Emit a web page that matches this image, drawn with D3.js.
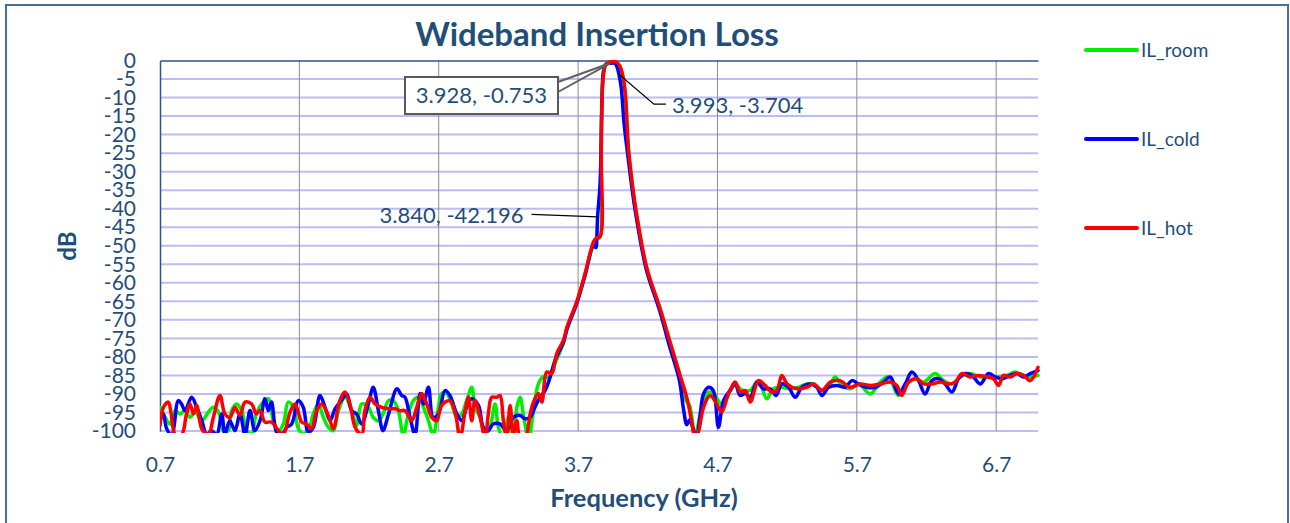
<!DOCTYPE html>
<html><head><meta charset="utf-8">
<script src="https://cdn.jsdelivr.net/npm/d3@7"></script>
<style>body{margin:0;background:#fff}svg{display:block;font-family:Lato,"Open Sans",sans-serif}</style>
</head><body><svg id="c" width="1290" height="523"></svg>
<script>
// ---------- DATA ----------
const chartTitle = "Wideband Insertion Loss";
const xTitle = "Frequency (GHz)";
const yTitle = "dB";
const xTicks = [0.7, 1.7, 2.7, 3.7, 4.7, 5.7, 6.7];
const yTicks = [0, -5, -10, -15, -20, -25, -30, -35, -40, -45, -50, -55, -60, -65, -70, -75, -80, -85, -90, -95, -100];
const seriesNames = ["IL_room", "IL_cold", "IL_hot"];
const seriesColors = ["#00ee00", "#0000ff", "#ff0000"];

// [GHz, dB]
const roomData = [[0.70,-93.6],[0.736,-96.3],[0.772,-98.1],[0.808,-94.5],[0.843,-95.4],[0.879,-94.5],[0.915,-96.3],[0.951,-94.9],[1.0,-97.2],[1.047,-94.9],[1.083,-93.6],[1.12,-94.9],[1.155,-99.9],[1.19,-99.9],[1.214,-94.5],[1.25,-92.7],[1.286,-94.5],[1.322,-99.9],[1.358,-100.8],[1.39,-95.4],[1.43,-92.7],[1.477,-91.3],[1.513,-97.2],[1.55,-99.9],[1.585,-98.1],[1.62,-92.2],[1.657,-93.6],[1.693,-99.4],[1.728,-100.8],[1.764,-99.9],[1.80,-95.4],[1.836,-92.7],[1.872,-96.3],[1.908,-99],[1.944,-99.9],[1.98,-94.5],[2.027,-90.9],[2.075,-94.5],[2.11,-98.5],[2.147,-92.7],[2.195,-93.6],[2.23,-96.3],[2.267,-97.2],[2.30,-95.4],[2.34,-91.8],[2.375,-91.8],[2.41,-94.5],[2.446,-101],[2.482,-95.4],[2.518,-91.8],[2.554,-90.9],[2.59,-93.6],[2.626,-97.2],[2.66,-101],[2.698,-93.6],[2.72,-89.9],[2.757,-89.9],[2.793,-92.7],[2.83,-96.3],[2.865,-95.4],[2.90,-91.8],[2.937,-88.2],[2.96,-93.6],[2.997,-96.3],[3.033,-101],[3.068,-99],[3.104,-92.7],[3.128,-99],[3.164,-102],[3.20,-96.3],[3.236,-102],[3.26,-93.6],[3.284,-90.9],[3.31,-96.3],[3.345,-102],[3.38,-94.5],[3.415,-87.3],[3.45,-85.4],[3.487,-85.4],[3.523,-82.7],[3.595,-76.2],[3.62,-72.5],[3.691,-65.3],[3.75,-57.8],[3.81,-49.5],[3.832,-48.2],[3.856,-47.8],[3.864,-28],[3.872,-9],[3.883,-3],[3.90,-1],[3.93,-0.5],[3.972,-0.5],[3.998,-1.6],[4.012,-3],[4.035,-8],[4.06,-23.8],[4.088,-33.5],[4.12,-42],[4.193,-56.3],[4.289,-67.3],[4.362,-76.5],[4.432,-85.3],[4.47,-91.5],[4.50,-93.1],[4.54,-101],[4.588,-93.6],[4.636,-89.5],[4.68,-90.4],[4.73,-92.7],[4.78,-89.9],[4.827,-87.3],[4.875,-89],[4.935,-89],[4.995,-86.4],[5.054,-91.3],[5.10,-88.6],[5.162,-88.2],[5.22,-88.6],[5.282,-88.2],[5.34,-87.3],[5.39,-87.3],[5.45,-89],[5.509,-87.3],[5.545,-85.4],[5.592,-87.7],[5.652,-88.6],[5.712,-87.3],[5.796,-90],[5.868,-86.8],[5.927,-85.4],[5.999,-90.4],[6.059,-87.3],[6.119,-85.9],[6.179,-86.8],[6.262,-84.5],[6.322,-86.4],[6.382,-87.3],[6.441,-85.4],[6.514,-84.5],[6.585,-85.4],[6.645,-85.4],[6.705,-85.4],[6.776,-85],[6.836,-84.1],[6.896,-85],[6.956,-85.4],[7.0,-85]];

const coldData = [[0.70,-97.2],[0.724,-95.4],[0.748,-99.4],[0.784,-101],[0.831,-91.8],[0.855,-92.7],[0.879,-94.5],[0.927,-90.9],[0.963,-93.6],[1.0,-97.2],[1.035,-101],[1.07,-99.9],[1.107,-101],[1.143,-95.4],[1.166,-101],[1.20,-97.2],[1.238,-99.9],[1.274,-95.4],[1.31,-101],[1.346,-94.5],[1.38,-99.9],[1.418,-97.2],[1.453,-91.3],[1.477,-94.5],[1.50,-92.2],[1.537,-100.3],[1.573,-101],[1.61,-99],[1.645,-98.1],[1.693,-91.8],[1.728,-93.6],[1.764,-100.3],[1.80,-99],[1.848,-90.4],[1.884,-93.6],[1.92,-97.2],[1.956,-94],[2.0,-91.8],[2.04,-90],[2.075,-94.5],[2.11,-95.4],[2.147,-98.1],[2.195,-92.7],[2.23,-88.2],[2.267,-94.5],[2.30,-99.9],[2.34,-95.4],[2.40,-88.6],[2.434,-90.4],[2.458,-90.9],[2.494,-96.3],[2.53,-101],[2.566,-89.9],[2.59,-92.7],[2.626,-88.2],[2.66,-96.3],[2.698,-95.4],[2.745,-89.1],[2.78,-90.4],[2.83,-95.4],[2.865,-97.2],[2.90,-93.6],[2.937,-91.3],[2.985,-93.1],[3.02,-99],[3.056,-99.9],[3.09,-98.1],[3.14,-98.1],[3.188,-100],[3.236,-96.3],[3.284,-95.8],[3.32,-96.7],[3.356,-96.3],[3.39,-93.6],[3.427,-90.9],[3.463,-89.1],[3.50,-85.4],[3.535,-80.9],[3.595,-76],[3.62,-72.5],[3.691,-65.5],[3.75,-58],[3.81,-50],[3.828,-50.5],[3.834,-48],[3.840,-42.2],[3.858,-33],[3.872,-10],[3.882,-3],[3.90,-1],[3.928,-0.75],[3.965,-0.8],[3.98,-1.8],[3.993,-3.7],[4.01,-7.5],[4.03,-17],[4.055,-25],[4.085,-34],[4.115,-41.7],[4.19,-56.5],[4.285,-67.5],[4.355,-77],[4.425,-86],[4.456,-94],[4.48,-98.3],[4.50,-97],[4.53,-100],[4.55,-102],[4.575,-96],[4.60,-90],[4.636,-88.2],[4.67,-89.1],[4.707,-99],[4.743,-91.8],[4.79,-89.1],[4.827,-87.3],[4.863,-90.4],[4.90,-89.9],[4.935,-90.9],[4.983,-86.8],[5.03,-88.6],[5.078,-88.6],[5.121,-90.4],[5.162,-87.3],[5.21,-88.2],[5.258,-90.9],[5.305,-88.2],[5.365,-87.3],[5.413,-88.2],[5.449,-90.4],[5.497,-88.2],[5.557,-87.7],[5.617,-88.2],[5.664,-86.4],[5.712,-87.3],[5.772,-88.2],[5.832,-88.2],[5.892,-86.8],[5.94,-85.4],[5.999,-90],[6.047,-87.3],[6.095,-84.1],[6.143,-86.4],[6.19,-90],[6.238,-86.4],[6.286,-85.9],[6.334,-87.3],[6.382,-89.5],[6.43,-85.9],[6.478,-84.5],[6.526,-85],[6.585,-87.3],[6.645,-84.5],[6.693,-85.4],[6.741,-85.9],[6.80,-85],[6.849,-84.5],[6.896,-85.4],[6.944,-84.5],[7.0,-83.7]];

const hotData = [[0.70,-98.5],[0.725,-93.6],[0.76,-92.2],[0.78,-95.4],[0.81,-101],[0.855,-101],[0.89,-95.4],[0.915,-92.7],[0.94,-95.4],[0.963,-93.1],[1.00,-99.4],[1.047,-101],[1.083,-96.3],[1.13,-90.4],[1.166,-95.4],[1.202,-96.3],[1.238,-93.6],[1.274,-95.8],[1.31,-92.2],[1.358,-92.7],[1.39,-95.4],[1.418,-94.5],[1.453,-97.6],[1.50,-97.6],[1.55,-99.9],[1.585,-101],[1.633,-94.9],[1.669,-92.7],[1.717,-97.6],[1.752,-98.1],[1.788,-99.4],[1.824,-94.5],[1.86,-92.7],[1.908,-95.8],[1.944,-99.4],[1.99,-91.8],[2.027,-89.5],[2.063,-92.7],[2.10,-99],[2.147,-101],[2.17,-94.5],[2.207,-90.9],[2.243,-92.7],[2.29,-93.6],[2.34,-94],[2.39,-94],[2.42,-94.5],[2.458,-94.5],[2.506,-97.2],[2.542,-93.6],[2.578,-89.9],[2.614,-92.7],[2.65,-96.3],[2.686,-97.2],[2.72,-93.1],[2.78,-91.8],[2.82,-95.4],[2.853,-102],[2.89,-94.5],[2.913,-90.9],[2.937,-97.2],[2.96,-91.8],[2.997,-96.3],[3.033,-102],[3.056,-95.4],[3.08,-90.9],[3.116,-90.9],[3.14,-90.4],[3.164,-97.2],[3.188,-102],[3.212,-93.1],[3.236,-101],[3.26,-97.2],[3.284,-102],[3.32,-102],[3.356,-95.4],[3.38,-92.2],[3.415,-89.9],[3.44,-92.2],[3.475,-84.1],[3.51,-84.5],[3.547,-79.1],[3.595,-75.5],[3.62,-72],[3.691,-65],[3.75,-57.5],[3.81,-49],[3.832,-47.9],[3.858,-47.5],[3.866,-25],[3.874,-8],[3.885,-3],[3.90,-1],[3.93,-0.4],[3.975,-0.4],[4.0,-1.5],[4.014,-3],[4.037,-8],[4.061,-23.6],[4.09,-33.5],[4.121,-41.7],[4.193,-56],[4.289,-67],[4.36,-76],[4.432,-85],[4.48,-91],[4.516,-97.6],[4.54,-102],[4.565,-100],[4.60,-93.6],[4.647,-90.4],[4.695,-92.7],[4.73,-94.9],[4.78,-89.9],[4.827,-86.8],[4.863,-89.5],[4.90,-89.1],[4.935,-92.2],[4.995,-86.4],[5.042,-87.7],[5.09,-89.5],[5.126,-89],[5.162,-85],[5.20,-87.3],[5.27,-88.6],[5.34,-88.2],[5.39,-87.3],[5.45,-89],[5.509,-86.8],[5.58,-86.4],[5.652,-88.2],[5.724,-87.3],[5.796,-87.7],[5.868,-87.3],[5.94,-86.8],[5.987,-87.7],[6.023,-90.4],[6.071,-86.8],[6.131,-85.9],[6.179,-87.3],[6.238,-87.3],[6.30,-86.8],[6.358,-87.3],[6.406,-86.8],[6.454,-84.5],[6.514,-85.4],[6.573,-85],[6.633,-85.4],[6.681,-85.9],[6.717,-87.7],[6.753,-85],[6.80,-85.4],[6.849,-84.5],[6.896,-85],[6.944,-86.4],[7.0,-82.8]];

const markerFreqs = [3.928, 3.993, 3.840];
const markerDbs = [-0.753, -3.704, -42.196];

// ---------- CHART ----------
const svg = d3.select("#c");
const textColor = "#1f4e79";
const plot = {left: 160, right: 1038, top: 60.5, bottom: 431};
const x = d3.scaleLinear().domain([0.7, 7.0]).range([plot.left, plot.right]);
const y = d3.scaleLinear().domain([-100, 0]).range([plot.bottom, plot.top]);
const loc = d3.formatLocale({decimal: ".", thousands: ",", grouping: [3], currency: ["", ""], minus: "-"});

svg.append("rect").attr("width", 1290).attr("height", 523).attr("fill", "#fff");
svg.append("rect").attr("x", 6).attr("y", 5).attr("width", 1282).attr("height", 560)
  .attr("fill", "none").attr("stroke", "#41719c").attr("stroke-width", 2);

// horizontal grid
svg.append("g").selectAll("line").data(yTicks.filter(d => d !== 0)).join("line")
  .attr("x1", plot.left).attr("x2", plot.right)
  .attr("y1", d => y(d)).attr("y2", d => y(d))
  .attr("stroke", "#bcbcf4").attr("stroke-width", 2);
// vertical grid
svg.append("g").selectAll("line").data(xTicks.filter(d => d !== 0.7)).join("line")
  .attr("x1", d => x(d)).attr("x2", d => x(d))
  .attr("y1", plot.top).attr("y2", plot.bottom)
  .attr("stroke", "#8c8c8c").attr("stroke-width", 1);

// axes (x axis line crosses at 0 dB => top)
const yAxis = d3.axisLeft(y).tickValues(yTicks).tickSize(0).tickPadding(24).tickFormat(loc.format("d"));
const gy = svg.append("g").attr("transform", `translate(${plot.left},0)`).call(yAxis);
gy.select(".domain").attr("stroke", "#2f4f8f").attr("stroke-width", 1.5);
gy.selectAll("text").attr("fill", textColor).attr("font-size", 21).attr("font-family", "Lato");

const xAxis = d3.axisBottom(x).tickValues(xTicks).tickSize(0).tickPadding(0).tickFormat(loc.format(".1f"));
const gx = svg.append("g").attr("transform", `translate(0,${y(0)})`).call(xAxis);
gx.select(".domain").attr("stroke", "#2f4f8f").attr("stroke-width", 1.5);
gx.selectAll("text").attr("fill", textColor).attr("font-size", 21).attr("font-family", "Lato")
  .attr("y", y(-100) - y(0) + 26).attr("dy", "0.71em");

// clip
svg.append("clipPath").attr("id", "clip").append("rect")
  .attr("x", plot.left).attr("y", plot.top - 6).attr("width", plot.right - plot.left + 2).attr("height", plot.bottom - plot.top + 8);

const line = d3.line().x(d => x(d[0])).y(d => y(d[1])).curve(d3.curveCatmullRom.alpha(0.5));
const allSeries = [roomData, coldData, hotData];
svg.append("g").attr("clip-path", "url(#clip)").selectAll("path").data(allSeries).join("path")
  .attr("d", line).attr("fill", "none")
  .attr("stroke", (d, i) => seriesColors[i]).attr("stroke-width", 3.5)
  .attr("stroke-linejoin", "round").attr("stroke-linecap", "round");

// titles
svg.append("text").attr("x", 597).attr("y", 46).attr("text-anchor", "middle")
  .attr("font-size", 33).attr("font-weight", "bold").attr("fill", textColor).text(chartTitle);
svg.append("text").attr("x", 644).attr("y", 507).attr("text-anchor", "middle")
  .attr("font-size", 25.5).attr("font-weight", "bold").attr("fill", textColor).text(xTitle);
svg.append("text").attr("transform", "translate(76,246) rotate(-90)").attr("text-anchor", "middle")
  .attr("font-size", 24).attr("font-weight", "bold").attr("fill", textColor).text(yTitle);

// legend
const legendY = [50, 139, 228];
const lg = svg.append("g").selectAll("g").data(seriesNames).join("g")
  .attr("transform", (d, i) => `translate(1086,${legendY[i]})`);
lg.append("line").attr("x1", 0).attr("x2", 51).attr("y1", 0).attr("y2", 0)
  .attr("stroke", (d, i) => seriesColors[i]).attr("stroke-width", 4).attr("stroke-linecap", "round");
lg.append("text").attr("x", 55).attr("dy", "0.35em").attr("font-size", 19)
  .attr("fill", textColor).text(d => d);

// markers / annotations
const fmt = loc.format(".3f");
const labelOf = i => `${fmt(markerFreqs[i])}, ${fmt(markerDbs[i])}`;
const ann = svg.append("g");
// 1: boxed callout
{
  const px = x(markerFreqs[0]), py = y(markerDbs[0]);
  const bx = 405, by = 77, bw = 153, bh = 37;
  ann.append("line").attr("x1", bx + bw).attr("y1", by + 5).attr("x2", px).attr("y2", py)
    .attr("stroke", "#606060").attr("stroke-width", 2);
  ann.append("line").attr("x1", bx + bw).attr("y1", by + 15).attr("x2", px).attr("y2", py)
    .attr("stroke", "#606060").attr("stroke-width", 2);
  ann.append("rect").attr("x", bx).attr("y", by).attr("width", bw).attr("height", bh)
    .attr("fill", "#fff").attr("stroke", "#595959").attr("stroke-width", 2);
  ann.append("text").attr("x", bx + bw / 2).attr("y", by + bh / 2).attr("dy", "0.35em")
    .attr("text-anchor", "middle").attr("font-size", 22).attr("fill", textColor).text(labelOf(0));
}
// 2: leader with elbow
{
  const px = x(markerFreqs[1]), py = y(markerDbs[1]);
  ann.append("polyline").attr("points", `${px},${py} ${px + 35},${py + 30} ${px + 47},${py + 30}`)
    .attr("fill", "none").attr("stroke", "#000").attr("stroke-width", 1.2);
  ann.append("text").attr("x", px + 53).attr("y", py + 31).attr("dy", "0.35em")
    .attr("font-size", 22).attr("fill", textColor).text(labelOf(1));
}
// 3: straight leader
{
  const px = x(markerFreqs[2]), py = y(markerDbs[2]);
  ann.append("line").attr("x1", px - 66).attr("y1", py - 2.5).attr("x2", px).attr("y2", py)
    .attr("stroke", "#000").attr("stroke-width", 1.2);
  ann.append("text").attr("x", px - 74).attr("y", py - 2).attr("dy", "0.35em").attr("text-anchor", "end")
    .attr("font-size", 22).attr("fill", textColor).text(labelOf(2));
}
</script></body></html>
